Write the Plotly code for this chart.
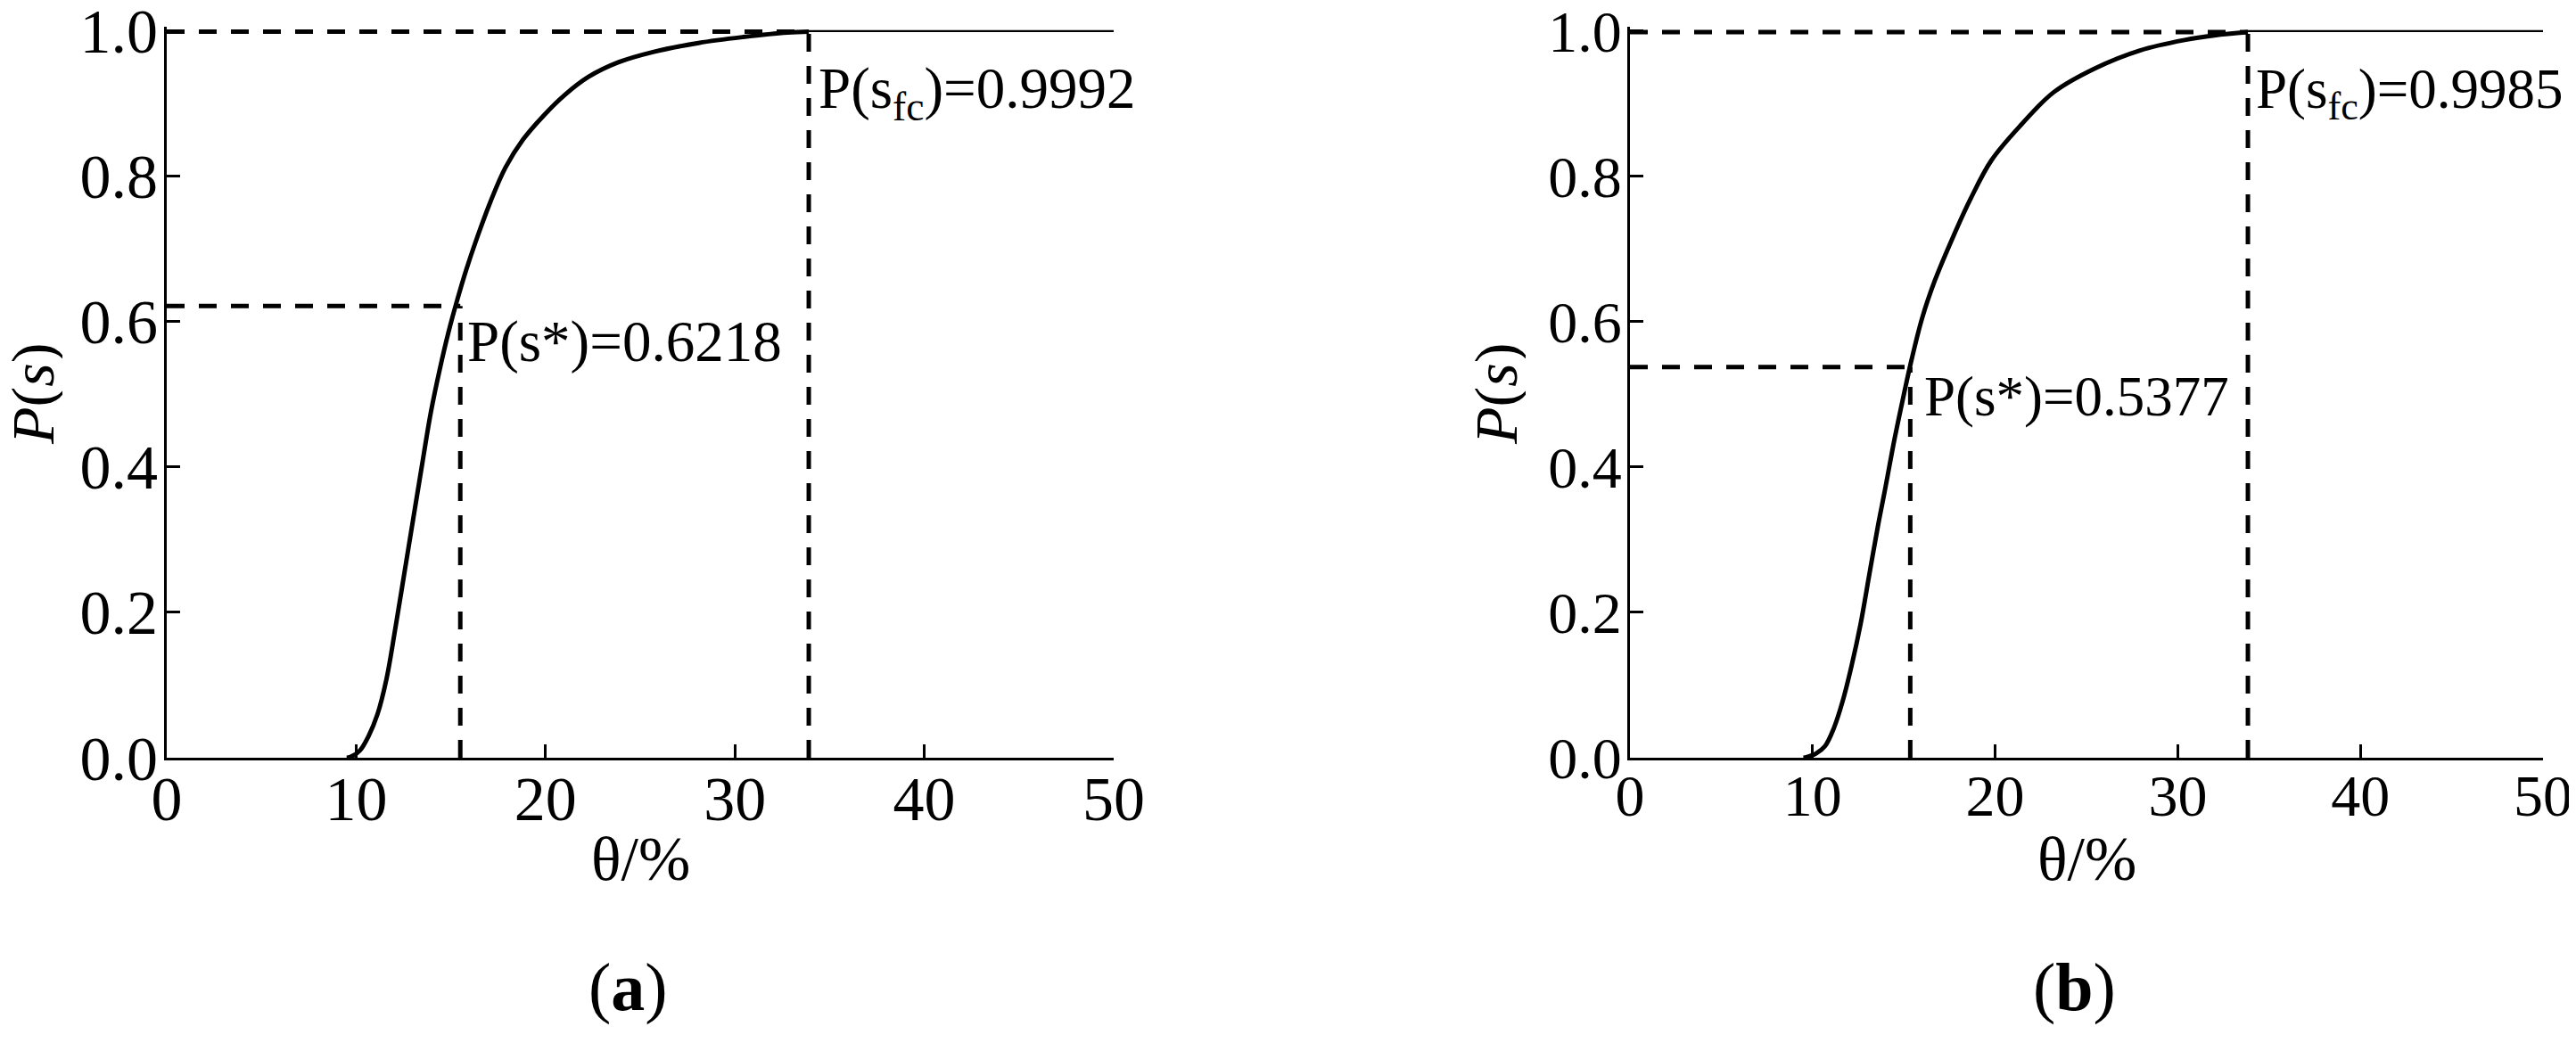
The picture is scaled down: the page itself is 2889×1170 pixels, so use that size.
import plotly.graph_objects as go
from plotly.subplots import make_subplots

# ----- data
theta_a = [9.5, 9.7, 10.2, 10.66, 11.13, 11.6, 12.07, 12.54, 13.01, 13.48, 13.95, 14.42,
           14.88, 15.35, 15.82, 16.31, 17.09, 17.88, 18.82, 19.91, 21.01, 22.27, 23.84,
           25.72, 28.08, 30.43, 32.78, 33.9]
p_a = [0.0, 0.001, 0.01, 0.03, 0.06, 0.108, 0.178, 0.253, 0.328, 0.403, 0.476, 0.535,
       0.586, 0.631, 0.672, 0.71, 0.765, 0.812, 0.851, 0.884, 0.912, 0.937, 0.957,
       0.9715, 0.9837, 0.9918, 0.998, 0.9992]

theta_b = [9.5, 9.7, 10.2, 10.68, 11.17, 11.65, 12.14, 12.63, 13.12, 13.61, 13.93, 14.5,
           15.0, 15.35, 16.0, 16.7, 17.68, 18.65, 19.79, 21.42, 23.21, 25.49, 27.93,
           30.37, 32.0, 33.84]
p_b = [0.0, 0.001, 0.006, 0.016, 0.041, 0.078, 0.127, 0.184, 0.254, 0.323, 0.364, 0.44,
       0.50, 0.54, 0.605, 0.657, 0.716, 0.769, 0.822, 0.871, 0.916, 0.949, 0.9734,
       0.9877, 0.994, 0.9985]

# s* and s_fc points (theta, P)
s_star = [(15.5, 0.6218), (15.35, 0.5377)]
s_fc = [(33.9, 0.9992), (33.84, 0.9985)]
theta_max = 50

labels_star = ['P(s*)=0.6218', 'P(s*)=0.5377']
labels_fc = ['P(s<sub>fc</sub>)=0.9992', 'P(s<sub>fc</sub>)=0.9985']
star_label_pos = [(15.75, 0.573), (16.0, 0.497)]
fc_label_pos = [(34.3, 0.915), (34.2, 0.915)]
panel_labels = ['(<b>a</b>)', '(<b>b</b>)']

x_ticks = [0, 10, 20, 30, 40, 50]
y_ticks = [0.0, 0.2, 0.4, 0.6, 0.8, 1.0]

FONT = 'Liberation Serif, Tinos, Times New Roman, DejaVu Serif, serif'
# panel (b) is drawn a little smaller than panel (a) in the original
tick_size = [70, 66]
note_size = [65, 63]

# page has an 8px body margin, so the figure starts 8px in
OFF = 8
W, H = 2889 - OFF, 1170 - OFF


def px_x(x):
    return (x - OFF) / W


def px_y(y):
    return 1 - (y - OFF) / H


fig = make_subplots(rows=1, cols=2)

curves = [(theta_a, p_a), (theta_b, p_b)]
for i, (th, p) in enumerate(curves):
    col = i + 1
    fig.add_trace(go.Scatter(x=th, y=p, mode='lines', line_shape='spline',
                             line=dict(color='black', width=5), showlegend=False),
                  row=1, col=col)
    # flat part after s_fc
    fig.add_trace(go.Scatter(x=[th[-1], theta_max], y=[1.0, 1.0], mode='lines',
                             line=dict(color='black', width=2.4), showlegend=False),
                  row=1, col=col)
    dash = dict(color='black', width=5, dash='20px,16px')
    for (sx, sy) in (s_star[i], s_fc[i]):
        fig.add_trace(go.Scatter(x=[0, sx], y=[sy, sy], mode='lines', line=dash,
                                 showlegend=False), row=1, col=col)
        fig.add_trace(go.Scatter(x=[sx, sx], y=[0, sy], mode='lines', line=dash,
                                 showlegend=False), row=1, col=col)

# ----- axes / layout (pixel positions as seen in the window)
px_dom = [(187, 1249), (1828, 2852)]
y_top, y_bot = 30, 850
for i in range(2):
    xa = 'xaxis' if i == 0 else 'xaxis2'
    ya = 'yaxis' if i == 0 else 'yaxis2'
    fig.update_layout({
        xa: dict(domain=[px_x(px_dom[i][0]), px_x(px_dom[i][1])], range=[0, theta_max],
                 tickvals=x_ticks, ticks='inside', ticklen=15, tickwidth=3,
                 tickcolor='black', showline=True, linewidth=3, linecolor='black',
                 showgrid=False, zeroline=False, ticklabelstandoff=-17,
                 automargin=False, ticklabeloverflow='allow',
                 tickfont=dict(family=FONT, size=tick_size[i], color='black')),
        ya: dict(domain=[px_y(y_bot), px_y(y_top)], range=[0, 1.006],
                 tickvals=y_ticks, tickformat='.1f', ticks='inside', ticklen=15,
                 tickwidth=3, tickcolor='black', showline=True, linewidth=3,
                 linecolor='black', showgrid=False, zeroline=False,
                 ticklabelstandoff=-7, automargin=False, ticklabeloverflow='allow',
                 tickfont=dict(family=FONT, size=tick_size[i], color='black')),
    })

ann = []
for i in range(2):
    xr = 'x' if i == 0 else 'x2'
    yr = 'y' if i == 0 else 'y2'
    ann.append(dict(x=star_label_pos[i][0], y=star_label_pos[i][1], xref=xr, yref=yr,
                    text=labels_star[i], showarrow=False, xanchor='left', yanchor='middle',
                    font=dict(family=FONT, size=note_size[i], color='black')))
    ann.append(dict(x=fc_label_pos[i][0], y=fc_label_pos[i][1], xref=xr, yref=yr,
                    text=labels_fc[i], showarrow=False, xanchor='left', yanchor='middle',
                    font=dict(family=FONT, size=note_size[i], color='black')))
    cx = (px_dom[i][0] + px_dom[i][1]) / 2
    # axis titles
    ann.append(dict(x=px_x(cx), y=px_y(963), xref='paper', yref='paper', text='θ/%',
                    showarrow=False, xanchor='center', yanchor='middle',
                    font=dict(family=FONT, size=70, color='black')))
    ann.append(dict(x=px_x(px_dom[i][0] - 150), y=px_y(442), xref='paper',
                    yref='paper', text='<i>P</i>(<i>s</i>)', textangle=-90,
                    height=66, showarrow=False, xanchor='center', yanchor='middle',
                    font=dict(family=FONT, size=68, color='black')))
    ann.append(dict(x=px_x(cx - 14), y=px_y(1107), xref='paper', yref='paper',
                    text=panel_labels[i], showarrow=False, xanchor='center',
                    yanchor='middle', font=dict(family=FONT, size=76, color='black')))

fig.update_layout(template='none', width=W, height=H,
                  margin=dict(l=0, r=0, t=0, b=0, autoexpand=False),
                  plot_bgcolor='white', paper_bgcolor='white', annotations=ann,
                  showlegend=False, font=dict(family=FONT, color='black'))

fig.write_html('out.html')
